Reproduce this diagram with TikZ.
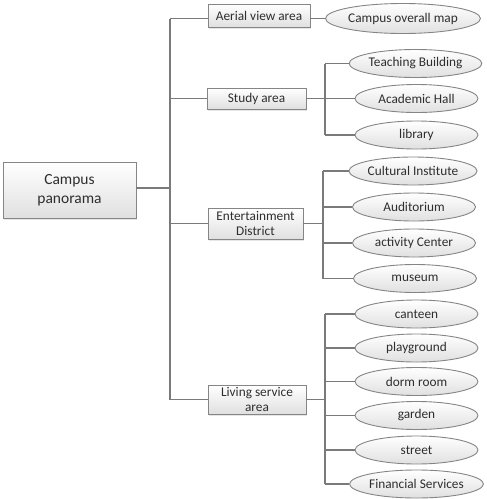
\documentclass[tikz,border=0pt]{standalone}
\usepackage{fontspec}
\setmainfont{Carlito}
\usetikzlibrary{shapes.geometric,shadows,calc}
\definecolor{txt}{HTML}{2E2E2E}
\definecolor{bord}{HTML}{858585}
\definecolor{fillb}{HTML}{E0E0E0}
\definecolor{lin}{HTML}{7A7A7A}
\begin{document}
\begin{tikzpicture}[x=1pt,y=-1pt,
  every node/.style={text=txt, font=\fontsize{13.3}{15}\selectfont},
  box/.style={draw=bord, line width=0.9pt, top color=white, bottom color=fillb, inner sep=0pt, align=center,
    drop shadow={shadow xshift=1pt, shadow yshift=-1.5pt, opacity=0.2}},
  oval/.style={ellipse, draw=bord, line width=0.9pt, top color=white, bottom color=fillb, inner sep=0pt,
    minimum width=123pt, minimum height=28pt},
  link/.style={draw=lin, line width=1.2pt}]
\useasboundingbox (0,0) rectangle (487,499);
% root
\node[box, minimum width=133pt, minimum height=56pt, font=\fontsize{15.5}{19}\selectfont] (root) at (69.5,190) {Campus\\panorama};
% level 2
\node[box, minimum width=102pt, minimum height=23pt] (aerial) at (259,15.5) {Aerial view area};
\node[box, minimum width=99pt, minimum height=21pt] (study) at (256.5,98.5) {Study area};
\node[box, minimum width=95pt, minimum height=31pt, font=\fontsize{13.3}{14.5}\selectfont] (ent) at (255.5,223.5) {Entertainment\\District};
\node[box, minimum width=98pt, minimum height=29pt, font=\fontsize{13.3}{14.5}\selectfont] (liv) at (257,399.5) {Living service\\area};
% level 3
\node[oval, minimum width=132pt, minimum height=30pt] (cmap) at (403,18.5) {Campus overall map};
\node[oval] (teach) at (415.5,63.5) {Teaching Building};
\node[oval] (acad) at (416.5,98.5) {Academic Hall};
\node[oval] (lib) at (416.5,135) {library};
\node[oval] (cult) at (413,171) {Cultural Institute};
\node[oval] (audi) at (414,207) {Auditorium};
\node[oval] (act) at (414,243) {activity Center};
\node[oval] (mus) at (415,278.5) {museum};
\node[oval] (cant) at (416.5,314) {canteen};
\node[oval] (play) at (416.5,348) {playground};
\node[oval] (dorm) at (416.5,381.5) {dorm room};
\node[oval] (gard) at (416.5,415.5) {garden};
\node[oval] (str) at (416.5,450) {street};
\node[oval] (fin) at (416.5,484) {Financial Services};
% trunk
\coordinate (t) at (170,0);
\draw[link] (root.east |- 0,188) -- (t |- 0,188);
\draw[link] (t |- cmap) -- (t |- liv.west);
\draw[link] (t |- cmap) -- (aerial.west |- cmap);
\draw[link] (t |- study.west) -- (study.west);
\draw[link] (t |- ent.west) -- (ent.west);
\draw[link] (t |- liv.west) -- (liv.west);
% aerial
\draw[link] (aerial.east |- cmap) -- (cmap.west);
% study
\coordinate (s) at (325,0);
\draw[link] (s |- teach) -- (s |- lib);
\draw[link] (study.east) -- (s |- study.east);
\foreach \n in {teach,acad,lib} \draw[link] (s |- \n) -- (\n.west);
% entertainment
\coordinate (e) at (323,0);
\draw[link] (e |- cult) -- (e |- mus);
\draw[link] (ent.east) -- (e |- ent.east);
\foreach \n in {cult,audi,act,mus} \draw[link] (e |- \n) -- (\n.west);
% living
\coordinate (l) at (325,0);
\draw[link] (l |- cant) -- (l |- fin);
\draw[link] (liv.east) -- (l |- liv.east);
\foreach \n in {cant,play,dorm,gard,str,fin} \draw[link] (l |- \n) -- (\n.west);
\end{tikzpicture}
\end{document}
